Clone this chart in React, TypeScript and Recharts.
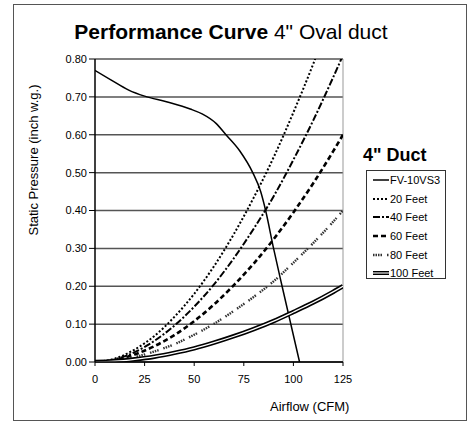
import React from "react";
import { LineChart, Line, XAxis, YAxis, CartesianGrid, ReferenceLine, Legend } from "recharts";

// System curves (static pressure, inch w.g.) by airflow (CFM)
const airflow = [0, 10, 20, 30, 40, 50, 60, 70, 80, 90, 100, 110, 120, 125];
const feet20 = [0, 0.009, 0.033, 0.069, 0.119, 0.18, 0.253, 0.338, 0.434, 0.54, 0.659, 0.787, 0.927, 1.0];
const feet40 = [0, 0.007, 0.026, 0.056, 0.096, 0.146, 0.205, 0.274, 0.352, 0.437, 0.534, 0.638, 0.751, 0.81];
const feet60 = [0, 0.005, 0.02, 0.042, 0.071, 0.108, 0.152, 0.203, 0.26, 0.324, 0.395, 0.472, 0.556, 0.6];
const feet80 = [0, 0.004, 0.013, 0.028, 0.047, 0.072, 0.101, 0.135, 0.172, 0.213, 0.262, 0.314, 0.37, 0.4];
const feet100 = [0, 0.002, 0.007, 0.014, 0.024, 0.036, 0.051, 0.068, 0.087, 0.108, 0.132, 0.157, 0.185, 0.2];

// Fan curve FV-10VS3
const fanAirflow = [0, 8, 17, 25, 36, 48, 54, 61, 66, 73, 79.5, 83.5, 86, 90, 94.3, 98.7, 103.1];
const fanPressure = [0.77, 0.745, 0.718, 0.702, 0.687, 0.668, 0.655, 0.63, 0.6, 0.557, 0.5, 0.45, 0.4, 0.3, 0.2, 0.1, 0.0];

const xTicks = [0, 25, 50, 75, 100, 125];
const yTicks = [0, 0.1, 0.2, 0.3, 0.4, 0.5, 0.6, 0.7, 0.8];

const legendKeys = ["fan", "f20", "f40", "f60", "f80", "f100"];
const seriesNames: Record<string, string> = {
  fan: "FV-10VS3",
  f20: "20 Feet",
  f40: "40 Feet",
  f60: "60 Feet",
  f80: "80 Feet",
  f100: "100 Feet",
};

const systemData = airflow.map((x, i) => ({
  x,
  f20: feet20[i],
  f40: feet40[i],
  f60: feet60[i],
  f80: feet80[i],
  f100: feet100[i],
}));
const fanData = fanAirflow.map((x, i) => ({ x, fan: fanPressure[i] }));

const FONT = "'Liberation Sans', Arial, Helvetica, sans-serif";

const styles: Record<string, { stroke: string; width: number; dash?: string }> = {
  fan: { stroke: "#000", width: 1.5 },
  f20: { stroke: "#000", width: 2, dash: "2 2" },
  f40: { stroke: "#000", width: 2, dash: "7 2 2 2" },
  f60: { stroke: "#000", width: 2.6, dash: "5 3" },
  f80: { stroke: "#333", width: 2.4, dash: "1.5 1 1.5 1 1.5 1 1.5 5" },
  f100: { stroke: "#000", width: 4.5 },
};

const LegendBox = () => {
  return (
    <div
      style={{
        width: 80,
        height: 109,
        boxSizing: "border-box",
        border: "1px solid #333",
        background: "#fff",
        fontFamily: FONT,
        fontSize: 11,
      }}
    >
      {legendKeys.map((k) => {
        const s = styles[k];
        return (
          <div key={k} style={{ height: 18.6, display: "flex", alignItems: "center", whiteSpace: "nowrap" }}>
            <svg width={16} height={8} style={{ marginLeft: 6, flex: "none" }}>
              <line x1={0} x2={16} y1={4} y2={4} stroke={s.stroke} strokeWidth={k === "f100" ? 4 : s.width} strokeDasharray={s.dash} />
              {k === "f100" && <line x1={0} x2={16} y1={4} y2={4} stroke="#fff" strokeWidth={1.1} />}
            </svg>
            <span style={{ color: "#000", marginLeft: 1 }}>{seriesNames[k]}</span>
          </div>
        );
      })}
    </div>
  );
};

export default function App() {
  return (
    <div style={{ position: "absolute", left: 0, top: 0, width: 471, height: 421, background: "#fff", fontFamily: FONT }}>
      <div
        style={{
          position: "absolute",
          left: 13,
          top: 4,
          width: 454,
          height: 417,
          boxSizing: "border-box",
          border: "1.5px solid #555",
        }}
      />
      <div style={{ position: "absolute", left: 0, top: 0 }}>
        <LineChart width={471} height={421} data={systemData} margin={{ top: 59, right: 128, bottom: 29, left: 0 }}>
          <CartesianGrid horizontal vertical={false} stroke="#555" strokeWidth={1.5} />
          <ReferenceLine x={125} stroke="#999" strokeWidth={1} />
          <XAxis
            type="number"
            dataKey="x"
            domain={[0, 125]}
            ticks={xTicks}
            height={30}
            tickSize={4}
            tickMargin={9}
            axisLine={{ stroke: "#000", strokeWidth: 1.5 }}
            tickLine={{ stroke: "#000" }}
            tick={{ fill: "#000", fontSize: 11, fontFamily: FONT }}
            allowDataOverflow
          />
          <YAxis
            type="number"
            domain={[0, 0.8]}
            ticks={yTicks}
            width={95}
            tickSize={6}
            tickMargin={2}
            interval={0}
            tickFormatter={(v: number) => v.toFixed(2)}
            axisLine={{ stroke: "#000", strokeWidth: 1.5 }}
            tickLine={{ stroke: "#000" }}
            tick={{ fill: "#000", fontSize: 11, fontFamily: FONT }}
            allowDataOverflow
          />
          <Legend
            layout="vertical"
            align="center"
            verticalAlign="middle"
            content={<LegendBox />}
            wrapperStyle={{ position: "absolute", left: 366, top: 170, width: 80, height: 109 }}
          />
          <Line data={fanData} dataKey="fan" name="FV-10VS3" type="monotone" stroke="#000" strokeWidth={1.5} dot={false} isAnimationActive={false} />
          <Line dataKey="f20" name="20 Feet" type="monotone" stroke="#000" strokeWidth={2} strokeDasharray="2 2" dot={false} isAnimationActive={false} />
          <Line dataKey="f40" name="40 Feet" type="monotone" stroke="#000" strokeWidth={2} strokeDasharray="7 2 2 2" dot={false} isAnimationActive={false} />
          <Line dataKey="f60" name="60 Feet" type="monotone" stroke="#000" strokeWidth={2.6} strokeDasharray="5 3" dot={false} isAnimationActive={false} />
          <Line dataKey="f80" name="80 Feet" type="monotone" stroke="#333" strokeWidth={2.4} strokeDasharray="1.5 1 1.5 1 1.5 1 1.5 5" dot={false} isAnimationActive={false} />
          <Line dataKey="f100" name="100 Feet" type="monotone" stroke="#000" strokeWidth={4.5} dot={false} isAnimationActive={false} />
          <Line dataKey="f100" name="100 Feet inner" type="monotone" stroke="#fff" strokeWidth={1.3} dot={false} legendType="none" isAnimationActive={false} />
        </LineChart>
      </div>
      <div
        style={{
          position: "absolute",
          left: 0,
          width: 462,
          top: 20,
          lineHeight: "24px",
          fontSize: 21,
          textAlign: "center",
          color: "#000",
          whiteSpace: "nowrap",
        }}
      >
        <b>Performance Curve</b> 4" Oval duct
      </div>
      <div
        style={{
          position: "absolute",
          left: -66,
          top: 152,
          width: 200,
          height: 16,
          lineHeight: "16px",
          fontSize: 13,
          textAlign: "center",
          transform: "rotate(-90deg)",
          color: "#000",
          whiteSpace: "nowrap",
        }}
      >
        Static Pressure (inch w.g.)
      </div>
      <div style={{ position: "absolute", left: 270, top: 399, lineHeight: "16px", fontSize: 13, color: "#000", whiteSpace: "nowrap" }}>
        Airflow (CFM)
      </div>
      <div style={{ position: "absolute", left: 363, top: 144, lineHeight: "22px", fontSize: 18, fontWeight: "bold", color: "#000", whiteSpace: "nowrap" }}>
        4" Duct
      </div>
    </div>
  );
}
